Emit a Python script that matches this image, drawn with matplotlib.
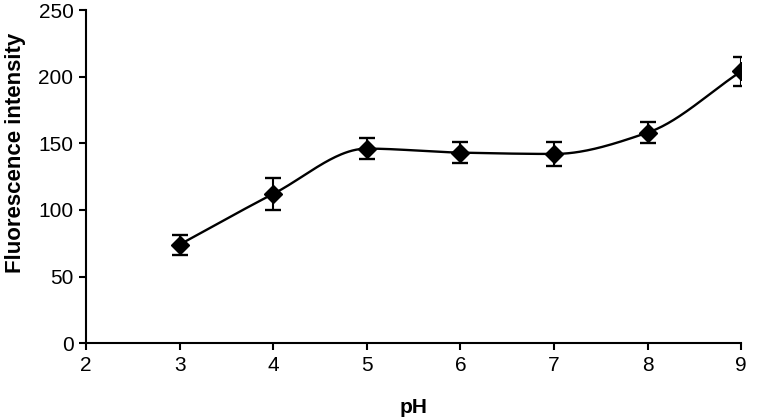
import numpy as np
import matplotlib
matplotlib.use("Agg")
import matplotlib.pyplot as plt

plt.rcParams['font.family'] = ['Liberation Sans', 'DejaVu Sans']

ph = [3, 4, 5, 6, 7, 8, 9]
intensity = [74, 112, 146, 143, 142, 158, 204]
err = [7.5, 12, 8, 8, 9, 8, 11]
xticks = [2, 3, 4, 5, 6, 7, 8, 9]
yticks = [0, 50, 100, 150, 200, 250]


def pchip(x, y, xs):
    x = np.asarray(x, float); y = np.asarray(y, float)
    h = np.diff(x); d = np.diff(y) / h
    m = np.zeros_like(y)
    for k in range(1, len(y) - 1):
        if d[k - 1] * d[k] > 0:
            w1 = 2 * h[k] + h[k - 1]; w2 = h[k] + 2 * h[k - 1]
            m[k] = (w1 + w2) / (w1 / d[k - 1] + w2 / d[k])
    m[0] = d[0]; m[-1] = d[-1]
    out = np.empty_like(xs)
    for i, xv in enumerate(xs):
        k = min(np.searchsorted(x, xv, side='right') - 1, len(x) - 2)
        t = (xv - x[k]) / h[k]
        h00 = 2*t**3 - 3*t**2 + 1; h10 = t**3 - 2*t**2 + t
        h01 = -2*t**3 + 3*t**2; h11 = t**3 - t**2
        out[i] = h00*y[k] + h10*h[k]*m[k] + h01*y[k+1] + h11*h[k]*m[k+1]
    return out


fig = plt.figure(figsize=(7.61, 4.18), dpi=100)
ax = fig.add_axes([0.113, 0.179, 0.861, 0.797])

xs = np.linspace(ph[0], ph[-1], 300)
ax.plot(xs, pchip(ph, intensity, xs), color='black', lw=1.7, zorder=2)
ax.errorbar(ph, intensity, yerr=err, fmt='D', color='black', ms=9.5,
            ecolor='black', elinewidth=1.5, capsize=6, capthick=1.7, zorder=3)

ax.set_xlim(2, 9)
ax.set_ylim(0, 250)
ax.set_xticks(xticks)
ax.set_yticks(yticks)
for s in ['top', 'right']:
    ax.spines[s].set_visible(False)
for s in ['left', 'bottom']:
    ax.spines[s].set_linewidth(1.5)
ax.tick_params(direction='out', length=5, width=1.5, labelsize=15, pad=4)
ax.set_xlabel('pH', fontsize=15, fontweight='bold')
ax.xaxis.set_label_coords(0.5, -0.222)
ax.xaxis.label.set_va('bottom')
ax.set_ylabel('Fluorescence intensity', fontsize=16, fontweight='bold')
ax.yaxis.set_label_coords(-0.092, 0.57)

fig.savefig('out.png', dpi=100)
